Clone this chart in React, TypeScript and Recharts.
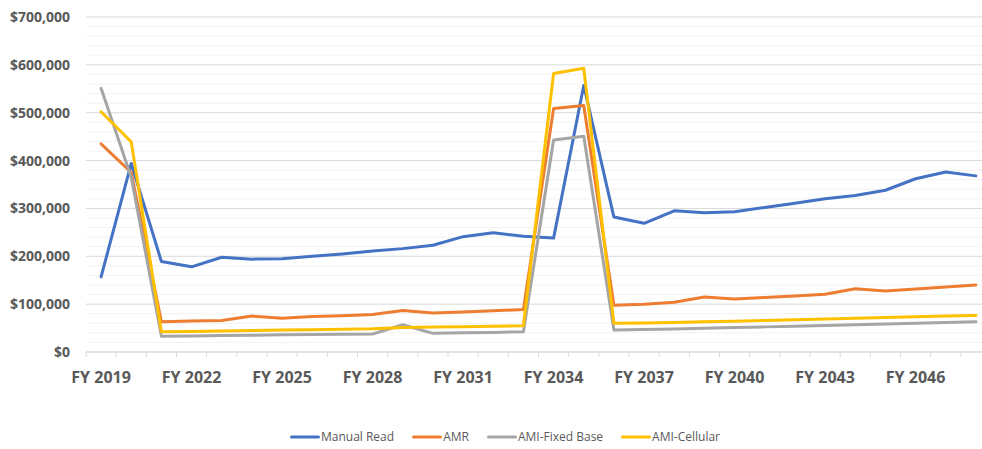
import React from "react";
import { LineChart, Line, XAxis, YAxis, CartesianGrid, Legend } from "recharts";

const years = [
  "FY 2019", "FY 2020", "FY 2021", "FY 2022", "FY 2023", "FY 2024", "FY 2025", "FY 2026", "FY 2027", "FY 2028",
  "FY 2029", "FY 2030", "FY 2031", "FY 2032", "FY 2033", "FY 2034", "FY 2035", "FY 2036", "FY 2037", "FY 2038",
  "FY 2039", "FY 2040", "FY 2041", "FY 2042", "FY 2043", "FY 2044", "FY 2045", "FY 2046", "FY 2047", "FY 2048",
];

const manualRead = [
  157000, 394000, 189000, 178000, 198000, 194000, 195000, 200000, 205000, 211000,
  216000, 223000, 241000, 249000, 242000, 238000, 557000, 282000, 269000, 295000,
  291000, 293000, 302000, 311000, 320000, 327000, 338000, 362000, 376000, 368000,
];

const amr = [
  435000, 375000, 63000, 65000, 66000, 75000, 70500, 74000, 76000, 78500,
  86500, 81500, 83500, 86000, 89000, 509000, 515000, 97500, 100000, 104000,
  115000, 111000, 114000, 117000, 120500, 132000, 127500, 131500, 136000, 140000,
];

const amiFixedBase = [
  551000, 365000, 33000, 33500, 34500, 35000, 36000, 36500, 37000, 37500,
  57000, 39000, 40000, 41000, 42500, 443000, 451000, 46000, 47000, 48000,
  49500, 51000, 52500, 54000, 55500, 57000, 58500, 60000, 61500, 63000,
];

const amiCellular = [
  502000, 439000, 42500, 43000, 44000, 45000, 46000, 46500, 47500, 48500,
  51000, 52000, 53000, 54000, 55000, 582000, 593000, 60000, 60500, 61500,
  63000, 64500, 66000, 67500, 69000, 70500, 72000, 73500, 75000, 76500,
];

const yTicks = [0, 100000, 200000, 300000, 400000, 500000, 600000, 700000];

const seriesDefs = [
  { key: "manualRead", name: "Manual Read", color: "#4472C4" },
  { key: "amr", name: "AMR", color: "#ED7D31" },
  { key: "amiFixedBase", name: "AMI-Fixed Base", color: "#A5A5A5" },
  { key: "amiCellular", name: "AMI-Cellular", color: "#FFC000" },
];

const data = years.map((year, i) => ({
  idx: i,
  year,
  manualRead: manualRead[i],
  amr: amr[i],
  amiFixedBase: amiFixedBase[i],
  amiCellular: amiCellular[i],
}));

const CHART_W = 1000;
const CHART_H = 449;
const MARGIN = { top: 17, right: 9, left: 8, bottom: 0 };
const Y_AXIS_W = 78;
const PLOT_W = CHART_W - MARGIN.left - MARGIN.right - Y_AXIS_W;
const N = years.length;
const HALF_BAND = PLOT_W / N / 2;

const boundaryTicks = Array.from({ length: N + 1 }, (_, k) => k - 0.5);
const minorGrid: number[] = [];
for (let v = 0; v <= 700000; v += 20000) {
  if (v % 100000 !== 0) minorGrid.push(v);
}

const FONT = "'Open Sans', 'Liberation Sans', sans-serif";
const TEXT_COLOR = "#595959";

const XTick = (props: any) => {
  const { x, y, payload } = props;
  const center = payload.value + 0.5;
  if (center % 3 !== 0 || center >= N) return null;
  return (
    <text
      x={x + HALF_BAND}
      y={y}
      dy="0.71em"
      textAnchor="middle"
      fill={TEXT_COLOR}
      fontFamily={FONT}
      fontWeight={700}
      fontSize={16}
    >
      {years[center]}
    </text>
  );
};

const fmtMoney = (v: number) => "$" + v.toLocaleString("en-US");

const LegendContent = () => (
  <div
    style={{
      display: "flex",
      justifyContent: "center",
      alignItems: "center",
      fontFamily: FONT,
      fontSize: 12,
      color: TEXT_COLOR,
      whiteSpace: "nowrap",
    }}
  >
    {seriesDefs.map((s) => (
      <div key={s.key} style={{ display: "flex", alignItems: "center", margin: "0 9px" }}>
        <svg width={30} height={10} style={{ marginRight: 1 }}>
          <line x1={1.5} y1={5} x2={28.5} y2={5} stroke={s.color} strokeWidth={3} strokeLinecap="round" />
        </svg>
        <span>{s.name}</span>
      </div>
    ))}
  </div>
);

export default function App() {
  return (
    <div
      style={{
        position: "absolute",
        left: 0,
        top: 0,
        width: 982,
        height: 449,
        overflow: "hidden",
        background: "#ffffff",
      }}
    >
      <LineChart width={CHART_W} height={CHART_H} data={data} margin={MARGIN}>
        <CartesianGrid vertical={false} horizontalValues={minorGrid} stroke="#F2F2F2" strokeWidth={1} />
        <CartesianGrid vertical={false} horizontalValues={yTicks} stroke="#D9D9D9" strokeWidth={1} />
        <XAxis
          dataKey="idx"
          type="number"
          domain={[-0.5, N - 0.5]}
          ticks={boundaryTicks}
          interval={0}
          height={97}
          tickSize={5}
          tickMargin={15}
          axisLine={{ stroke: "#D9D9D9" }}
          tickLine={{ stroke: "#D9D9D9" }}
          tick={<XTick />}
        />
        <YAxis
          width={Y_AXIS_W}
          domain={[0, 700000]}
          ticks={yTicks}
          interval={0}
          axisLine={false}
          tickLine={false}
          tickSize={0}
          tickMargin={16}
          tickFormatter={fmtMoney}
          tick={{ fill: TEXT_COLOR, fontFamily: FONT, fontWeight: 700, fontSize: 14 }}
        />
        <Legend
          layout="horizontal"
          verticalAlign="middle"
          align="center"
          wrapperStyle={{ top: 428, left: 0, width: 1010 }}
          content={<LegendContent />}
        />
        {seriesDefs.map((s) => (
          <Line
            key={s.key}
            type="linear"
            dataKey={s.key}
            name={s.name}
            stroke={s.color}
            strokeWidth={3}
            strokeLinejoin="round"
            strokeLinecap="round"
            dot={false}
            activeDot={false}
            isAnimationActive={false}
          />
        ))}
      </LineChart>
    </div>
  );
}
